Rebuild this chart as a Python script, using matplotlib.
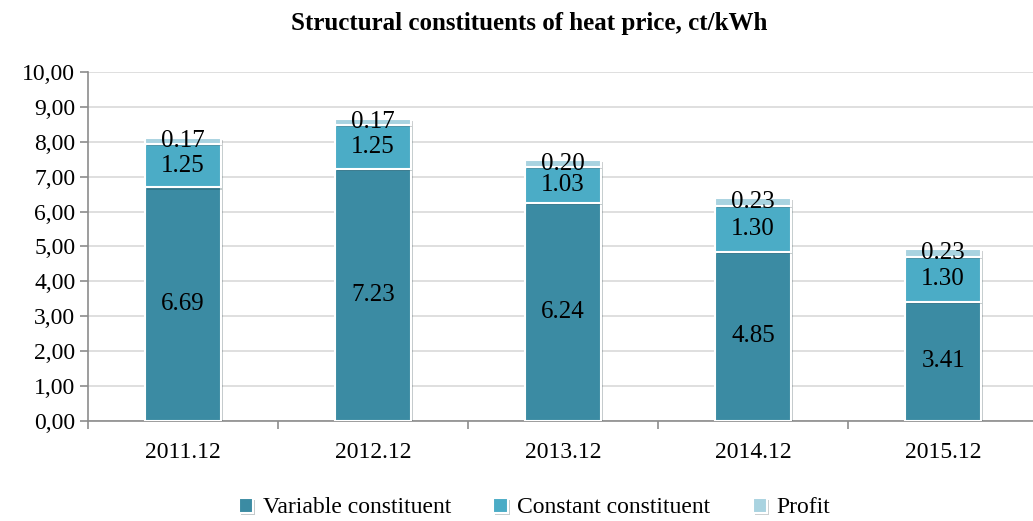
import numpy as np
import matplotlib.pyplot as plt
import matplotlib.patheffects as pe
from matplotlib.ticker import FuncFormatter

plt.rcParams['font.family'] = ['Liberation Serif', 'DejaVu Serif']

years = ['2011.12', '2012.12', '2013.12', '2014.12', '2015.12']
variable = [6.69, 7.23, 6.24, 4.85, 3.41]
constant = [1.25, 1.25, 1.03, 1.30, 1.30]
profit = [0.17, 0.17, 0.20, 0.23, 0.23]

c_var = '#3b8ba3'
c_con = '#4bacc6'
c_pro = '#a9d3e0'

fig = plt.figure(figsize=(10.33, 5.21), dpi=100)
ax = fig.add_axes([0.085, 0.192, 0.92, 0.670])

x = np.arange(len(years))
w = 0.4
shadow = [pe.SimplePatchShadow(offset=(1.5, -1.5), alpha=0.25), pe.Normal()]
ax.bar(x, variable, w, color=c_var, edgecolor='white', linewidth=1.5,
       label='Variable constituent', zorder=3, path_effects=shadow)
ax.bar(x, constant, w, bottom=variable, color=c_con, edgecolor='white',
       linewidth=1.5, label='Constant constituent', zorder=3, path_effects=shadow)
bot3 = np.array(variable) + np.array(constant)
ax.bar(x, profit, w, bottom=bot3, color=c_pro, edgecolor='white',
       linewidth=1.5, label='Profit', zorder=3, path_effects=shadow)

for i in range(len(years)):
    ax.text(x[i], variable[i] / 2, f'{variable[i]:.2f}', ha='center', va='center',
            fontsize=18, zorder=5)
    ax.text(x[i], variable[i] + constant[i] / 2, f'{constant[i]:.2f}', ha='center',
            va='center', fontsize=18, zorder=5)
    ax.text(x[i], bot3[i] + profit[i] / 2, f'{profit[i]:.2f}', ha='center',
            va='center', fontsize=18, zorder=5)

ax.set_xlim(-0.5, len(years) - 0.5)
ax.set_ylim(0, 10)
ax.set_yticks(np.arange(0, 11, 1))
ax.yaxis.set_major_formatter(FuncFormatter(lambda v, p: f'{v:.2f}'.replace('.', ',')))
ax.set_xticks(x)
ax.set_xticklabels(years)
ax.set_xticks(np.arange(-0.5, len(years), 1), minor=True)
ax.tick_params(axis='x', which='major', length=0, pad=15, labelsize=17)
ax.tick_params(axis='x', which='minor', length=6, color='#8c8c8c', width=1.2)
ax.tick_params(axis='y', length=6, color='#8c8c8c', width=1.2, labelsize=17, pad=3)
ax.grid(axis='y', color='#d9d9d9', linewidth=1.2, zorder=0)
for s in ['top', 'right']:
    ax.spines[s].set_visible(False)
for s in ['left', 'bottom']:
    ax.spines[s].set_color('#8c8c8c')
    ax.spines[s].set_linewidth(1.2)

fig.text(0.512, 0.955, 'Structural constituents of heat price, ct/kWh', fontsize=18,
         fontweight='bold', ha='center', va='center')
ax.legend(loc='lower center', bbox_to_anchor=(0.47, -0.34), ncol=3, frameon=False,
          fontsize=17, handlelength=0.6, handleheight=0.6, handletextpad=0.4,
          columnspacing=1.8)

fig.savefig('out.png', dpi=100)
